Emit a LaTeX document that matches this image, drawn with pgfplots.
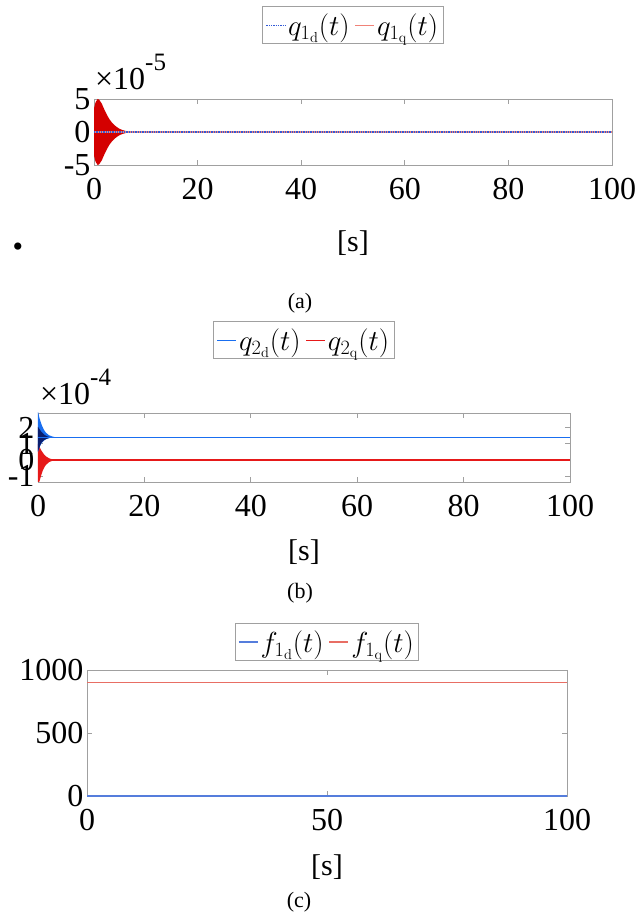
\RequirePackage{fix-cm}
\documentclass[border=0pt]{standalone}
\usepackage[no-math]{fontspec}
\setmainfont{Liberation Serif}
\usepackage{pgfplots}
\pgfplotsset{compat=1.18}

\definecolor{boxgray}{RGB}{160,160,160}
\definecolor{fillred}{RGB}{212,0,0}
\definecolor{salmon}{RGB}{240,130,120}
\definecolor{dotblue}{RGB}{50,90,215}
\definecolor{qblue}{RGB}{25,110,240}
\definecolor{qnavy}{RGB}{10,30,110}
\definecolor{qred}{RGB}{230,25,25}
\definecolor{fblue}{RGB}{85,125,220}
\definecolor{fred}{RGB}{232,110,100}

\newcommand{\tickfont}{\fontsize{32}{32}\selectfont}
\newcommand{\labfont}{\fontsize{30}{30}\selectfont}

\pgfplotsset{
  panel/.style={
    scale only axis,
    anchor=south west,
    scaled ticks=false,
    axis line style={boxgray, line width=0.9pt},
    tick style={boxgray, line width=0.8pt},
    major tick length=5pt,
    tick align=inside,
    xmin=0, xmax=100,
    ticklabel style={font=\tickfont, text=black},
    xticklabel style={yshift=-10pt},
    label style={font=\labfont},
    xlabel={[s]},
    legend style={draw=boxgray, line width=0.8pt, fill=white,
      font=\fontsize{29}{29}\selectfont, inner xsep=3pt, inner ysep=5pt,
      anchor=south, legend columns=2,
      /tikz/every even column/.append style={column sep=3pt}},
    legend image code/.code={\draw[#1] (0pt,0pt) -- (19pt,0pt);},
  },
}

\begin{document}
\begin{tikzpicture}
\path[use as bounding box] (0,0) rectangle (637pt,918pt);

% ---------------- (a) ----------------
\begin{axis}[panel, at={(94pt,753pt)}, width=518pt, height=66pt,
  ymin=-5e-5, ymax=5e-5,
  xtick={0,20,40,60,80,100}, xticklabels={0,20,40,60,80,100},
  ytick={-5e-5,0,5e-5}, yticklabels={-5,0,5},
  xlabel style={at={(axis description cs:0.5,0)}, anchor=center, yshift=-78pt},
  legend style={at={(0.5,1.83)}},
]
\addlegendimage{dotblue, densely dotted, line width=1.3pt}
\addlegendentry{$q_{1_\mathrm{d}}(t)$}
\addlegendimage{salmon, line width=1.3pt}
\addlegendentry{$q_{1_\mathrm{q}}(t)$}
% envelope of the fast q_1q oscillation
\addplot[fill=fillred, draw=none, forget plot] coordinates {
  (0,3.6e-5) (0.3,4.5e-5) (0.7,5.0e-5) (1.0,4.9e-5) (1.5,4.3e-5)
  (2.0,3.4e-5) (2.5,2.6e-5) (3.0,1.9e-5) (3.5,1.4e-5) (4.0,1.0e-5)
  (4.5,0.7e-5) (5.0,0.45e-5) (5.5,0.3e-5) (6.0,0.18e-5) (6.5,0.1e-5)
  (7.0,0.05e-5) (7.5,0.02e-5) (8.0,0)
  (7.5,-0.02e-5) (7.0,-0.05e-5) (6.5,-0.1e-5) (6.0,-0.18e-5)
  (5.5,-0.3e-5) (5.0,-0.45e-5) (4.5,-0.7e-5) (4.0,-1.0e-5)
  (3.5,-1.4e-5) (3.0,-1.9e-5) (2.5,-2.6e-5) (2.0,-3.4e-5)
  (1.5,-4.3e-5) (1.0,-4.9e-5) (0.7,-5.0e-5) (0.3,-4.5e-5) (0,-3.6e-5)
} -- cycle;
\addplot[salmon, line width=1.4pt, forget plot] coordinates {(0,0) (100,0)};
\addplot[dotblue, densely dotted, line width=1.3pt, forget plot] coordinates {(0,0) (100,0)};
\end{axis}

% ---------------- (b) ----------------
\begin{axis}[panel, at={(38pt,436pt)}, width=532pt, height=69pt,
  ymin=-1.36e-4, ymax=2.9e-4,
  xtick={0,20,40,60,80,100}, xticklabels={0,20,40,60,80,100},
  ytick={-1e-4,0,1e-4,2e-4}, yticklabels={-1,0,1,2},
  xlabel style={at={(axis description cs:0.5,0)}, anchor=center, yshift=-70pt},
  legend style={at={(0.5,1.78)}},
]
\addlegendimage{qblue, line width=1.3pt}
\addlegendentry{$q_{2_\mathrm{d}}(t)$}
\addlegendimage{qred, line width=1.3pt}
\addlegendentry{$q_{2_\mathrm{q}}(t)$}
% q_2q transient band and steady value
\addplot[fill=qred, draw=none, forget plot] coordinates {
  (0,1.0e-4) (0.3,0.8e-4) (0.6,0.6e-4) (0.9,0.45e-4) (1.2,0.32e-4)
  (1.5,0.22e-4) (2.1,0.1e-4) (2.7,0.04e-4) (3.3,0)
  (2.7,-0.05e-4) (2.1,-0.13e-4) (1.5,-0.3e-4) (1.2,-0.45e-4)
  (0.9,-0.65e-4) (0.6,-0.95e-4) (0.3,-1.3e-4) (0,-1.5e-4)
} -- cycle;
\addplot[qred, line width=1.5pt, forget plot] coordinates {(0,0) (100,0)};
% q_2d transient band and steady value
\addplot[fill=qblue, draw=none, forget plot] coordinates {
  (0,3.0e-4) (0.3,2.55e-4) (0.6,2.25e-4) (0.9,2.0e-4) (1.2,1.82e-4)
  (1.5,1.68e-4) (2.1,1.52e-4) (2.7,1.45e-4) (3.3,1.4e-4)
  (2.7,1.38e-4) (2.1,1.35e-4) (1.5,1.28e-4) (1.2,1.22e-4)
  (0.9,1.12e-4) (0.6,1.0e-4) (0.3,0.8e-4) (0,0.5e-4)
} -- cycle;
\addplot[fill=qnavy, draw=none, forget plot] coordinates {
  (0,2.05e-4) (0.6,1.75e-4) (1.2,1.55e-4) (1.8,1.45e-4) (2.4,1.4e-4)
  (1.8,1.33e-4) (1.2,1.24e-4) (0.6,1.05e-4) (0,0.55e-4)
} -- cycle;
\addplot[qblue, line width=1.5pt, forget plot] coordinates {(0,1.4e-4) (100,1.4e-4)};
\end{axis}

% ---------------- (c) ----------------
\begin{axis}[panel, at={(87pt,122pt)}, width=480pt, height=126pt,
  ymin=0, ymax=1000, clip=false,
  xtick={0,50,100}, xticklabels={0,50,100},
  ytick={0,500,1000}, yticklabels={0,500,1000},
  xlabel style={at={(axis description cs:0.5,0)}, anchor=center, yshift=-71pt},
  legend style={at={(0.5,1.07)}},
]
\addlegendimage{fblue, line width=1.6pt}
\addlegendentry{$f_{1_\mathrm{d}}(t)$}
\addlegendimage{fred, line width=1.6pt}
\addlegendentry{$f_{1_\mathrm{q}}(t)$}
\addplot[fred, line width=1.8pt, forget plot] coordinates {(0,900) (100,900)};
\addplot[fblue, line width=1.8pt, forget plot] coordinates {(0,0) (100,0)};
\end{axis}

% exponent labels of the y axes
\node[anchor=base west, font=\fontsize{32}{32}\selectfont, inner sep=0pt]
  at (95pt,828pt) {×10\raisebox{0.6em}{\fontsize{25}{25}\selectfont -5}};
\node[anchor=base west, font=\fontsize{32}{32}\selectfont, inner sep=0pt]
  at (40pt,513pt) {×10\raisebox{0.6em}{\fontsize{25}{25}\selectfont -4}};

% panel captions and bullet
\node[font=\fontsize{22}{22}\selectfont] at (300pt,615pt) {(a)};
\node[font=\fontsize{22}{22}\selectfont] at (300pt,325pt) {(b)};
\node[font=\fontsize{22}{22}\selectfont] at (299pt,16pt) {(c)};
\node[font=\fontsize{30}{30}\selectfont] at (18pt,668pt) {•};
\end{tikzpicture}
\end{document}
